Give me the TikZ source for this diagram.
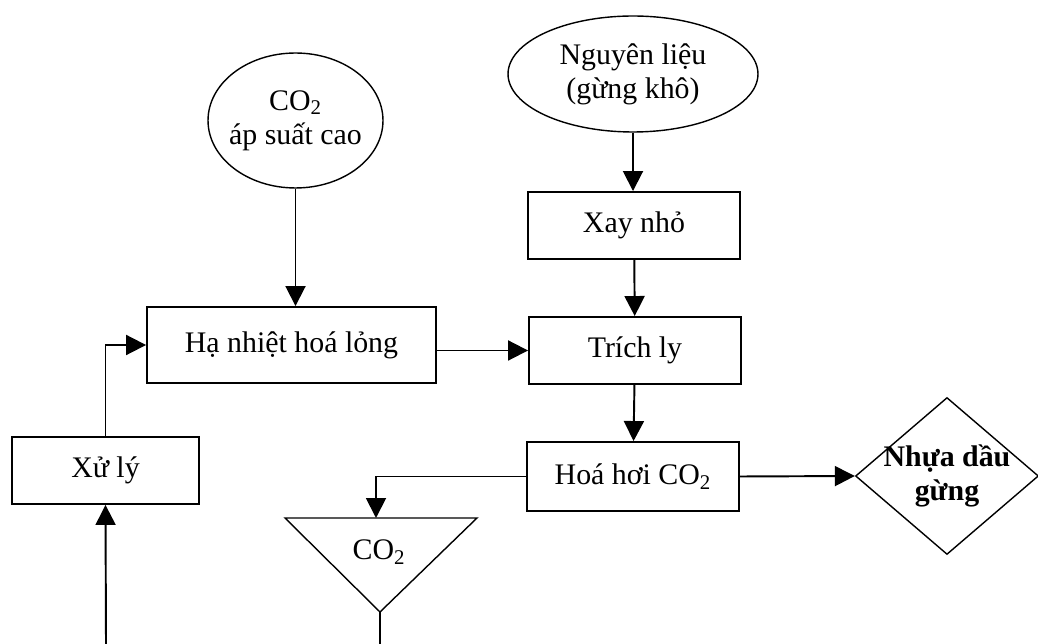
\documentclass[tikz,border=0pt]{standalone}
\usepackage{fontspec}
\setmainfont{Liberation Serif}
\usetikzlibrary{shapes.geometric,arrows.meta}
\begin{document}
\begin{tikzpicture}[x=0.02cm, y=-0.02cm, font=\fontsize{17}{19.5}\selectfont,
    >={Triangle[length=0.4cm,width=0.4cm]},
    box/.style={draw, line width=1.1pt, inner sep=0pt, align=center, minimum width=4.24cm, minimum height=1.34cm},
    oval/.style={draw, ellipse, line width=0.8pt, align=center, inner xsep=-0.5cm, inner ysep=-0.2cm},
    flow/.style={->, line width=1.1pt}]
  \useasboundingbox (0,0) rectangle (1038,644);
  \node[oval, minimum width=3.5cm, minimum height=2.7cm] (co2in) at (295.5,120.5) {CO\textsubscript{2}\\áp suất cao};
  \node[oval, minimum width=5cm, minimum height=2.32cm] (nguyenlieu) at (633,74) {Nguyên liệu\\(gừng khô)};
  \node[box] (xaynho) at (634,225.5) {Xay nhỏ};
  \node[box] (trichly) at (635,350.5) {Trích ly};
  \node[box, minimum width=5.78cm, minimum height=1.52cm] (hanhiet) at (291.5,345) {Hạ nhiệt hoá lỏng};
  \node[box, minimum width=3.74cm] (xuly) at (105.5,470.5) {Xử lý};
  \node[box, minimum height=1.38cm] (hoahoi) at (633,476.5) {Hoá hơi CO\textsubscript{2}};
  \node[draw, diamond, line width=0.8pt, align=center, inner xsep=-0.5cm, inner ysep=-0.3cm,
        minimum width=3.66cm, minimum height=3.14cm, font=\fontsize{17}{19.5}\selectfont\bfseries] (nhua) at (947,476) {Nhựa dầu\\gừng};
  \draw[line width=0.8pt] (285,518) -- (477,518) -- (380,612) -- cycle;
  \node (co2out) at (379,552) {CO\textsubscript{2}};
  \coordinate (tritop) at (376,518);
  \coordinate (triapex) at (380,612);
  \coordinate (botmid) at (380,644);
  \coordinate (botleft) at (106,644);
  \draw[flow] (co2in.south) -- (co2in.south |- hanhiet.north);
  \draw[flow] (nguyenlieu.south) -- (nguyenlieu.south |- xaynho.north);
  \draw[flow] (xaynho) -- (trichly);
  \draw[flow] (hanhiet.east |- trichly.west) -- (trichly.west);
  \draw[flow] (xuly.north) |- (hanhiet.west);
  \draw[flow] (botleft) -- (xuly.south);
  \draw[flow] (trichly) -- (hoahoi);
  \draw[flow] (hoahoi.east) -- (nhua.west);
  \draw[flow] (hoahoi.west) -| (tritop);
  \draw[line width=1.1pt] (triapex) -- (botmid);
\end{tikzpicture}
\end{document}
